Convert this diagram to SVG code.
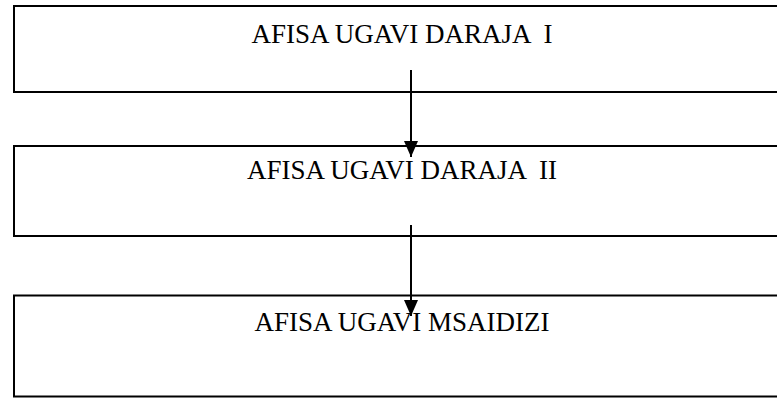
<svg xmlns="http://www.w3.org/2000/svg" width="777" height="398" viewBox="0 0 777 398">
<style>
.box{fill:#fff;stroke:#000;stroke-width:2}
.lbl{font-family:"Liberation Serif","Times New Roman",serif;font-size:27px;fill:#000;text-anchor:middle;white-space:pre}
.con{stroke:#000;stroke-width:2;fill:none}
</style>
<defs>
<marker id="ah" markerUnits="userSpaceOnUse" markerWidth="16" markerHeight="14" refX="16" refY="7" orient="auto">
<path d="M0,0 L16,7 L0,14 Z" fill="#000"/>
</marker>
</defs>
<g id="node1">
<rect class="box" x="14" y="6" width="780" height="86"/>
<text class="lbl" x="402" y="43" xml:space="preserve">AFISA UGAVI DARAJA  I</text>
</g>
<g id="node2">
<rect class="box" x="14" y="146" width="780" height="90"/>
<text class="lbl" x="402" y="179" xml:space="preserve">AFISA UGAVI DARAJA  II</text>
</g>
<g id="node3">
<rect class="box" x="14" y="295.5" width="780" height="101"/>
<text class="lbl" x="402" y="331">AFISA UGAVI MSAIDIZI</text>
</g>
<g id="connectors">
<line class="con" x1="411" y1="70" x2="411" y2="157" marker-end="url(#ah)"/>
<line class="con" x1="411" y1="225" x2="411" y2="316" marker-end="url(#ah)"/>
</g>
</svg>
